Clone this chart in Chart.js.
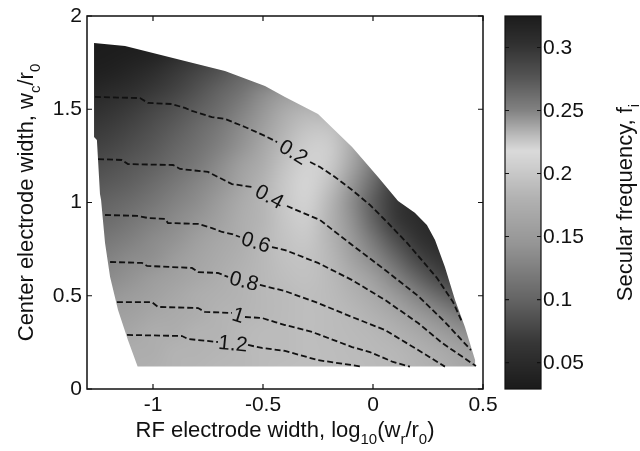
<!DOCTYPE html>
<html>
<head>
<meta charset="utf-8">
<title>Secular frequency map</title>
<script src="https://cdn.jsdelivr.net/npm/chart.js@4.4.1/dist/chart.umd.min.js"></script>
<style>
  html, body { margin: 0; padding: 0; background: #fff; }
  canvas { display: block; }
</style>
</head>
<body>
<canvas id="chart" width="640" height="451"></canvas>
<script>
// ---- data ---------------------------------------------------------------
// Grid of the secular-frequency map: x = log10(wr/r0), y = wc/r0 (rows listed top to bottom)
const freqGridX = [-1.3, -1.2, -1.1, -1.0, -0.9, -0.8, -0.7, -0.6, -0.5, -0.4, -0.3, -0.2, -0.1, 0.0, 0.1, 0.2, 0.3, 0.4, 0.5];
const freqGridY = [1.9, 1.8, 1.7, 1.6, 1.5, 1.4, 1.3, 1.2, 1.1, 1.0, 0.9, 0.8, 0.7, 0.6, 0.5, 0.4, 0.3, 0.2, 0.1];
const n = null;
const secularFreq = [
  [0.325,0.325,0.325,0.324,0.322,0.318,n,n,n,n,n,n,n,n,n,n,n,n,n],
  [0.325,0.324,0.322,0.318,0.310,0.300,0.290,n,n,n,n,n,n,n,n,n,n,n,n],
  [0.322,0.319,0.314,0.306,0.297,0.288,0.278,0.268,n,n,n,n,n,n,n,n,n,n,n],
  [0.315,0.310,0.304,0.297,0.289,0.278,0.268,0.259,0.248,0.243,n,n,n,n,n,n,n,n,n],
  [0.305,0.301,0.295,0.287,0.279,0.270,0.262,0.251,0.243,0.236,0.233,0.177,n,n,n,n,n,n,n],
  [0.298,0.294,0.288,0.280,0.272,0.264,0.256,0.247,0.240,0.233,0.227,0.196,0.175,n,n,n,n,n,n],
  [0.291,0.288,0.281,0.274,0.267,0.260,0.251,0.244,0.237,0.230,0.223,0.205,0.175,0.130,n,n,n,n,n],
  [0.284,0.280,0.274,0.269,0.262,0.255,0.247,0.240,0.235,0.227,0.221,0.203,0.165,0.120,0.085,n,n,n,n],
  [0.276,0.273,0.269,0.263,0.256,0.249,0.244,0.238,0.233,0.225,0.220,0.194,0.148,0.105,0.070,0.055,n,n,n],
  [0.270,0.267,0.263,0.257,0.250,0.246,0.241,0.236,0.232,0.225,0.221,0.185,0.138,0.095,0.066,0.050,0.045,n,n],
  [0.264,0.262,0.257,0.251,0.247,0.243,0.239,0.235,0.232,0.226,0.223,0.182,0.142,0.100,0.068,0.052,0.045,0.045,n],
  [0.259,0.256,0.251,0.247,0.244,0.240,0.237,0.235,0.231,0.227,0.225,0.184,0.152,0.118,0.085,0.062,0.050,0.050,n],
  [0.253,0.250,0.247,0.245,0.241,0.238,0.236,0.234,0.231,0.228,0.227,0.186,0.162,0.135,0.105,0.078,0.062,0.056,n],
  [0.248,0.247,0.244,0.241,0.239,0.237,0.235,0.233,0.231,0.229,0.228,0.188,0.175,0.155,0.128,0.100,0.078,0.068,0.066],
  [0.245,0.243,0.241,0.239,0.237,0.235,0.234,0.233,0.231,0.230,0.229,0.189,0.182,0.170,0.150,0.128,0.105,0.088,0.082],
  [0.241,0.240,0.239,0.237,0.236,0.235,0.233,0.232,0.231,0.230,0.229,0.190,0.186,0.180,0.168,0.152,0.135,0.118,0.108],
  [0.239,0.238,0.237,0.235,0.235,0.233,0.233,0.231,0.230,0.230,0.229,0.190,0.188,0.185,0.180,0.170,0.157,0.142,0.132],
  [0.237,0.236,0.235,0.235,0.233,0.233,0.232,0.231,0.230,0.230,0.229,0.191,0.189,0.187,0.185,0.180,0.172,0.162,0.154],
  [0.236,0.235,0.235,0.234,0.233,0.232,0.231,0.231,0.230,0.229,0.229,0.191,0.190,0.188,0.186,0.183,0.177,0.168,0.160]
];

// Outline of the computed (valid) parameter region
const regionX = [-1.268,-1.127,-0.855,-0.673,-0.491,-0.400,-0.250,-0.095,0.023,0.114,0.190,0.245,0.282,0.327,0.373,0.418,0.464,0.464,-1.070,-1.114,-1.159,-1.195,-1.218,-1.236,-1.241,-1.255,-1.268];
const regionY = [1.855,1.839,1.759,1.705,1.625,1.566,1.475,1.298,1.137,1.008,0.945,0.880,0.799,0.654,0.477,0.332,0.155,0.120,0.120,0.263,0.424,0.601,0.783,1.013,1.046,1.335,1.351];

// Dashed contours, split where the level label sits
const contourLevels = ['0.2', '0.4', '0.6', '0.8', '1', '1.2'];
const contour02A = [[-1.264,1.566],[-1.059,1.560],[-1.023,1.534],[-0.914,1.528],[-0.855,1.507],[-0.823,1.491],[-0.732,1.458],[-0.673,1.448],[-0.582,1.405],[-0.491,1.357],[-0.436,1.324]];
const contour02B = [[-0.286,1.217],[-0.241,1.190],[-0.173,1.137],[-0.095,1.067],[-0.014,0.987],[0.064,0.895],[0.155,0.783],[0.214,0.702],[0.291,0.595],[0.364,0.466],[0.405,0.359]];
const contour04A = [[-1.250,1.233],[-1.141,1.228],[-1.114,1.206],[-0.909,1.201],[-0.877,1.180],[-0.750,1.164],[-0.705,1.137],[-0.641,1.099],[-0.550,1.083]];
const contour04B = [[-0.391,0.981],[-0.241,0.906],[-0.095,0.772],[0.055,0.638],[0.205,0.499],[0.327,0.359],[0.445,0.209]];
const contour06A = [[-1.218,0.933],[-1.068,0.928],[-1.023,0.917],[-0.945,0.912],[-0.932,0.890],[-0.795,0.885],[-0.732,0.863],[-0.686,0.842],[-0.641,0.831],[-0.605,0.815]];
const contour06B = [[-0.459,0.761],[-0.400,0.745],[-0.250,0.676],[-0.095,0.584],[0.055,0.477],[0.205,0.354],[0.314,0.247],[0.468,0.123]];
const contour08A = [[-1.195,0.681],[-1.050,0.676],[-1.027,0.660],[-0.823,0.649],[-0.795,0.627],[-0.705,0.622],[-0.659,0.601]];
const contour08B = [[-0.514,0.558],[-0.400,0.525],[-0.250,0.461],[-0.095,0.386],[0.055,0.316],[0.205,0.209],[0.327,0.120]];
const contour10A = [[-1.164,0.466],[-1.005,0.466],[-0.977,0.440],[-0.795,0.434],[-0.764,0.413],[-0.641,0.408]];
const contour10B = [[-0.582,0.386],[-0.505,0.381],[-0.445,0.359],[-0.400,0.343],[-0.277,0.306],[-0.241,0.290],[-0.095,0.225],[-0.014,0.198],[0.091,0.145],[0.168,0.120]];
const contour12A = [[-1.118,0.290],[-0.868,0.284],[-0.841,0.268],[-0.705,0.252]];
const contour12B = [[-0.568,0.236],[-0.505,0.220],[-0.400,0.204],[-0.250,0.155],[-0.050,0.120]];

// Axis ticks
const xTickValues = [-1, -0.5, 0, 0.5];
const xTickLabels = ['-1', '-0.5', '0', '0.5'];
const yTickValues = [0, 0.5, 1, 1.5, 2];
const yTickLabels = ['0', '0.5', '1', '1.5', '2'];
const cbTickValues = [0.05, 0.1, 0.15, 0.2, 0.25, 0.3];
const cbTickLabels = ['0.05', '0.1', '0.15', '0.2', '0.25', '0.3'];

// ---- styling --------------------------------------------------------------
// Gray colormap: dark at both ends, brightest near 0.22
const CMAP_V = [0.029, 0.066, 0.100, 0.145, 0.181, 0.205, 0.218, 0.229, 0.250, 0.276, 0.303, 0.325];
const CMAP_G = [26, 55, 100, 150, 178, 205, 218, 190, 130, 85, 48, 28];
const FONT = '"Liberation Sans", Arial, Helvetica, sans-serif';
const INK = '#111';

function grayFor(v) {
  if (v <= CMAP_V[0]) return CMAP_G[0];
  for (let i = 1; i < CMAP_V.length; i++) {
    if (v <= CMAP_V[i]) {
      const t = (v - CMAP_V[i - 1]) / (CMAP_V[i] - CMAP_V[i - 1]);
      return CMAP_G[i - 1] + t * (CMAP_G[i] - CMAP_G[i - 1]);
    }
  }
  return CMAP_G[CMAP_G.length - 1];
}

// One pixel per grid cell; empty cells borrow the nearest value in their row
function buildFieldImage() {
  const rows = freqGridY.length, cols = freqGridX.length;
  const cv = document.createElement('canvas');
  cv.width = cols; cv.height = rows;
  const g = cv.getContext('2d');
  const img = g.createImageData(cols, rows);
  for (let r = 0; r < rows; r++) {
    for (let c = 0; c < cols; c++) {
      let v = secularFreq[r][c];
      if (v == null) {
        let bd = Infinity;
        for (let cc = 0; cc < cols; cc++) {
          const w = secularFreq[r][cc];
          if (w != null && Math.abs(cc - c) < bd) { bd = Math.abs(cc - c); v = w; }
        }
      }
      const k = Math.round(grayFor(v));
      const i = (r * cols + c) * 4;
      img.data[i] = k; img.data[i + 1] = k; img.data[i + 2] = k; img.data[i + 3] = 255;
    }
  }
  g.putImageData(img, 0, 0);
  return cv;
}
const fieldImage = buildFieldImage();

function drawRich(ctx, parts, size) {
  const sub = Math.round(size * 0.68);
  let w = 0;
  parts.forEach(([t, s]) => { ctx.font = `${s ? sub : size}px ${FONT}`; w += ctx.measureText(t).width; });
  let x = -w / 2;
  ctx.textAlign = 'left';
  ctx.textBaseline = 'alphabetic';
  parts.forEach(([t, s]) => {
    ctx.font = `${s ? sub : size}px ${FONT}`;
    ctx.fillText(t, x, s ? Math.round(size * 0.32) : 0);
    x += ctx.measureText(t).width;
  });
}

// ---- plugins --------------------------------------------------------------
const fieldPlugin = {
  id: 'fieldMap',
  beforeDatasetsDraw(chart) {
    const { ctx, scales: { x, y } } = chart;
    const dx = freqGridX[1] - freqGridX[0];
    const dy = freqGridY[0] - freqGridY[1];
    const left = x.getPixelForValue(freqGridX[0] - dx / 2);
    const right = x.getPixelForValue(freqGridX[freqGridX.length - 1] + dx / 2);
    const top = y.getPixelForValue(freqGridY[0] + dy / 2);
    const bottom = y.getPixelForValue(freqGridY[freqGridY.length - 1] - dy / 2);
    ctx.save();
    ctx.beginPath();
    regionX.forEach((vx, i) => {
      const px = x.getPixelForValue(vx), py = y.getPixelForValue(regionY[i]);
      if (i === 0) ctx.moveTo(px, py); else ctx.lineTo(px, py);
    });
    ctx.closePath();
    ctx.clip();
    ctx.imageSmoothingEnabled = true;
    ctx.imageSmoothingQuality = 'high';
    ctx.drawImage(fieldImage, left, top, right - left, bottom - top);
    ctx.restore();
  }
};

const framePlugin = {
  id: 'frameAndLabels',
  afterDatasetsDraw(chart) {
    const { ctx, chartArea: a, scales: { x, y, c } } = chart;
    const pairs = [[contour02A, contour02B], [contour04A, contour04B], [contour06A, contour06B],
                   [contour08A, contour08B], [contour10A, contour10B], [contour12A, contour12B]];
    // contour level labels, centred in each gap and turned along the line
    ctx.save();
    ctx.fillStyle = INK;
    ctx.font = `21px ${FONT}`;
    ctx.textAlign = 'center';
    ctx.textBaseline = 'middle';
    pairs.forEach(([pa, pb], i) => {
      const p1 = pa[pa.length - 1], p2 = pb[0];
      const x1 = x.getPixelForValue(p1[0]), y1 = y.getPixelForValue(p1[1]);
      const x2 = x.getPixelForValue(p2[0]), y2 = y.getPixelForValue(p2[1]);
      ctx.save();
      ctx.translate((x1 + x2) / 2, (y1 + y2) / 2);
      ctx.rotate(Math.atan2(y2 - y1, x2 - x1));
      ctx.fillText(contourLevels[i], 0, 1);
      ctx.restore();
    });
    ctx.restore();

    // axes box with inward ticks on all four sides
    ctx.save();
    ctx.strokeStyle = INK;
    ctx.lineWidth = 1.5;
    ctx.strokeRect(a.left, a.top, a.right - a.left, a.bottom - a.top);
    ctx.lineWidth = 1.2;
    ctx.beginPath();
    xTickValues.forEach(v => {
      const px = x.getPixelForValue(v);
      ctx.moveTo(px, a.bottom); ctx.lineTo(px, a.bottom - 5);
      ctx.moveTo(px, a.top); ctx.lineTo(px, a.top + 5);
    });
    yTickValues.forEach(v => {
      const py = y.getPixelForValue(v);
      ctx.moveTo(a.left, py); ctx.lineTo(a.left + 5, py);
      ctx.moveTo(a.right, py); ctx.lineTo(a.right - 5, py);
    });
    ctx.stroke();
    ctx.restore();

    // colour bar with its ticks and labels
    const cbL = a.right + 22, cbW = 36;
    const cbTop = c.getPixelForValue(c.max), cbBot = c.getPixelForValue(c.min);
    ctx.save();
    for (let py = Math.floor(cbTop); py < cbBot; py++) {
      const g = Math.round(grayFor(c.getValueForPixel(py + 0.5)));
      ctx.fillStyle = `rgb(${g},${g},${g})`;
      ctx.fillRect(cbL, py, cbW, 1);
    }
    ctx.strokeStyle = INK;
    ctx.lineWidth = 1.2;
    ctx.strokeRect(cbL, cbTop, cbW, cbBot - cbTop);
    ctx.beginPath();
    cbTickValues.forEach(v => {
      const py = c.getPixelForValue(v);
      ctx.moveTo(cbL, py); ctx.lineTo(cbL + 4, py);
      ctx.moveTo(cbL + cbW, py); ctx.lineTo(cbL + cbW - 4, py);
    });
    ctx.stroke();
    ctx.fillStyle = INK;
    ctx.font = `21px ${FONT}`;
    ctx.textAlign = 'left';
    ctx.textBaseline = 'middle';
    cbTickValues.forEach((v, i) => {
      ctx.fillText(cbTickLabels[i], cbL + cbW + 2, c.getPixelForValue(v) + 1);
    });
    ctx.restore();
  },
  afterDraw(chart) {
    const { ctx, chartArea: a, scales: { c } } = chart;
    ctx.save();
    ctx.fillStyle = INK;
    // x title
    ctx.save();
    ctx.translate((a.left + a.right) / 2, 437);
    drawRich(ctx, [['RF electrode width, log', false], ['10', true], ['(w', false], ['r', true], ['/r', false], ['0', true], [')', false]], 22);
    ctx.restore();
    // y title
    ctx.save();
    ctx.translate(33, (a.top + a.bottom) / 2);
    ctx.rotate(-Math.PI / 2);
    drawRich(ctx, [['Center electrode width, w', false], ['c', true], ['/r', false], ['0', true]], 22);
    ctx.restore();
    // colour bar title
    ctx.save();
    const cbMid = (c.getPixelForValue(c.max) + c.getPixelForValue(c.min)) / 2;
    ctx.translate(632, cbMid);
    ctx.rotate(-Math.PI / 2);
    drawRich(ctx, [['Secular frequency, f', false], ['i', true]], 22);
    ctx.restore();
    ctx.restore();
  }
};

// ---- chart ----------------------------------------------------------------
const toPoints = pts => pts.map(([px, py]) => ({ x: px, y: py }));
const contourDatasets = [contour02A, contour02B, contour04A, contour04B, contour06A, contour06B,
                         contour08A, contour08B, contour10A, contour10B, contour12A, contour12B]
  .map(pts => ({
    data: toPoints(pts),
    showLine: true,
    borderColor: INK,
    borderWidth: 1.8,
    borderDash: [6, 3],
    pointRadius: 0,
    pointHoverRadius: 0,
    fill: false,
    tension: 0
  }));

Chart.defaults.font.family = FONT;
Chart.defaults.color = INK;

new Chart(document.getElementById('chart'), {
  type: 'scatter',
  data: { datasets: contourDatasets },
  options: {
    responsive: false,
    animation: false,
    devicePixelRatio: 1,
    layout: { padding: { top: 16, left: 0, right: 0, bottom: 0 } },
    plugins: { legend: { display: false }, tooltip: { enabled: false } },
    scales: {
      x: {
        type: 'linear', position: 'bottom', min: -1.3, max: 0.5,
        grid: { display: false, drawTicks: false },
        border: { display: false },
        afterBuildTicks: s => { s.ticks = xTickValues.map(v => ({ value: v })); },
        afterFit: s => { s.height = 62; },
        ticks: { autoSkip: false, maxRotation: 0, padding: 4, font: { size: 21 },
                 callback: (v, i) => xTickLabels[i] }
      },
      y: {
        type: 'linear', position: 'left', min: 0, max: 2,
        grid: { display: false, drawTicks: false },
        border: { display: false },
        afterBuildTicks: s => { s.ticks = yTickValues.map(v => ({ value: v })); },
        afterFit: s => { s.width = 87; },
        ticks: { autoSkip: false, padding: 5, font: { size: 21, lineHeight: 1 },
                 callback: (v, i) => yTickLabels[i] }
      },
      c: {
        type: 'linear', position: 'right', min: 0.029, max: 0.325,
        grid: { display: false, drawTicks: false },
        border: { display: false },
        afterBuildTicks: s => { s.ticks = cbTickValues.map(v => ({ value: v })); },
        afterFit: s => { s.width = 157; },
        ticks: { display: false }
      }
    }
  },
  plugins: [fieldPlugin, framePlugin]
});
</script>
</body>
</html>
